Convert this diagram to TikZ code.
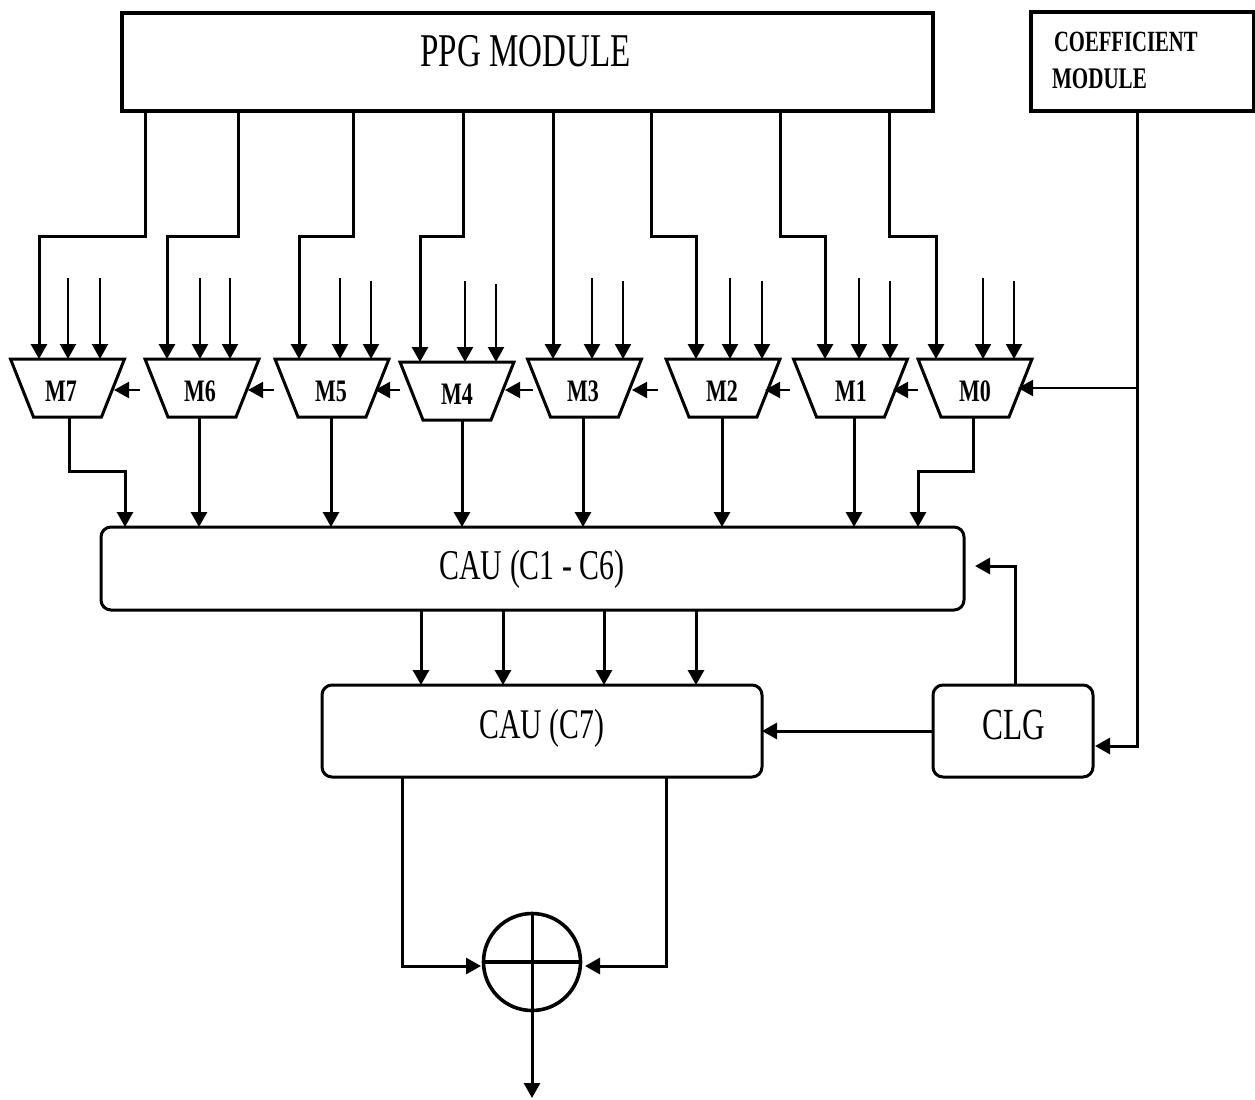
\documentclass[tikz,border=0pt]{standalone}
\usepackage{fontspec}
\usepackage{graphicx}
\setmainfont{Liberation Serif}
\usetikzlibrary{arrows.meta,calc}
\newcommand{\pxu}{0.75pt}
\newcommand{\tall}[1]{\scalebox{1}[1.42]{#1}}
\tikzset{
  x=0.75pt,y=-0.75pt,
  box/.style={draw=black,line width=3.4*\pxu,fill=white,inner sep=0pt,outer sep=0pt},
  roundbox/.style={box,rounded corners=10*\pxu,line width=3*\pxu},
  muxbody/.style={draw=black,line width=3*\pxu,fill=white,line join=miter},
  muxtext/.style={rectangle,inner sep=0pt,outer sep=0pt,minimum width=114*\pxu,minimum height=58*\pxu,
    font=\bfseries\fontsize{16.5}{18}\selectfont},
  wire/.style={line width=3*\pxu,draw=black},
  arr/.style={wire,-{Triangle[length=15*\pxu,width=16*\pxu]}},
  thin arr/.style={arr,line width=2.2*\pxu},
  plain label/.style={inner sep=0pt,outer sep=0pt},
}
\begin{document}
\begin{tikzpicture}
\useasboundingbox (0,0) rectangle (1255,1099);
% boxes
\node[box,minimum width=811*\pxu,minimum height=98*\pxu] (ppg) at (527.5,62) {};
\node[plain label,font=\fontsize{24.8}{28}\selectfont] (ppgt) at (525.5,51) {\tall{PPG MODULE}};
\node[box,minimum width=223*\pxu,minimum height=99*\pxu] (coef) at (1142.5,61.5) {};
\node[plain label,font=\bfseries\fontsize{15.5}{18}\selectfont,anchor=west] (coefa) at (1054,42) {\tall{COEFFICIENT}};
\node[plain label,font=\bfseries\fontsize{15.8}{18}\selectfont,anchor=west] (coefb) at (1052,79) {\tall{MODULE}};
\node[roundbox,minimum width=863*\pxu,minimum height=83*\pxu] (cauA) at (532.5,568.5) {};
\node[plain label,font=\fontsize{22.4}{26}\selectfont] (cauAt) at (532,569) {\tall{CAU (C1 - C6)}};
\node[roundbox,minimum width=440*\pxu,minimum height=92*\pxu] (cauB) at (542,731) {};
\node[plain label,font=\fontsize{22.3}{26}\selectfont] (cauBt) at (542,728) {\tall{CAU (C7)}};
\node[roundbox,minimum width=160*\pxu,minimum height=92*\pxu] (clg) at (1013,731) {};
\node[plain label,font=\fontsize{23.5}{26}\selectfont] (clgt) at (1014,725) {\tall{CLG}};
\node[draw=black,line width=3.6*\pxu,circle,minimum size=97*\pxu,inner sep=0pt,outer sep=0pt,fill=white] (sum) at (532,962) {};
\draw[wire,line width=3*\pxu] (sum.north) -- (sum.south);
\draw[wire,line width=3.4*\pxu] (sum.west) -- (sum.east);
% muxes
\foreach \m/\x/\y/\tx in {M7/67.5/388/61,M6/202/388/200,M5/332/388/331,M4/457/391/457,M3/584.5/388/583,M2/723/388/722,M1/850.5/388/851,M0/975/388/975}{
  \node[muxtext] (\m) at (\x,\y) {};
  \draw[muxbody] (\m.north west) -- (\m.north east) -- ($(\m.south east)+(-23,0)$) -- ($(\m.south west)+(23,0)$) -- cycle;
  \node[plain label,font=\bfseries\fontsize{16.5}{18}\selectfont] (\m t) at (\tx,\y+3) {\tall{\m}};
}
% PPG to mux
\foreach \m/\a/\b in {M7/145/39,M6/238/167,M5/353/299,M4/463/420,M2/651/696,M1/780/825,M0/889/936}{
  \coordinate (s) at (\a,0);
  \coordinate (t) at (\b,0);
  \coordinate (k) at (0,236);
  \draw[arr] (ppg.south -| s) -- (s |- k) -- (t |- k) -- (t |- \m.north);
}
\coordinate (s3) at (553,0);
\draw[arr] (ppg.south -| s3) -- (s3 |- M3.north);
% free data inputs
\foreach \m/\a/\y in {M7/68/278,M7/100/278,M6/200/278,M6/230/278,M5/340/278,M5/371/281,M4/465/281,M4/496/284,M3/592/278,M3/623/281,M2/730/278,M2/762/281,M1/859/278,M1/890/281,M0/983/278,M0/1014/281}{
  \coordinate (f) at (\a,\y);
  \draw[thin arr] (f) -- (f |- \m.north);
}
% select chain
\foreach \a/\b in {140/114,274/248,400/375,533/505,658/632,790/765,918/893}{
  \coordinate (f) at (\a,390);
  \coordinate (t) at (\b,390);
  \draw[thin arr] (f) -- (t);
}
\coordinate (bus) at (1137,388);
\coordinate (m0s) at (1018,388);
\draw[thin arr] (bus) -- (m0s);
% mux to CAU
\foreach \m/\a in {M6/199,M5/331,M4/462,M3/583,M2/722,M1/854}{
  \coordinate (o) at (\a,0);
  \draw[arr] (o |- \m.south) -- (o |- cauA.north);
}
\coordinate (k) at (0,471);
\coordinate (o) at (69,0); \coordinate (t) at (125,0);
\draw[arr] (o |- M7.south) -- (o |- k) -- (t |- k) -- (t |- cauA.north);
\coordinate (o) at (973,0); \coordinate (t) at (918,0);
\draw[arr] (o |- M0.south) -- (o |- k) -- (t |- k) -- (t |- cauA.north);
% CAU to CAU
\foreach \a in {421,503,604,696}{
  \coordinate (o) at (\a,0);
  \draw[arr] (o |- cauA.south) -- (o |- cauB.north);
}
% CLG
\coordinate (up) at (1015,566);
\coordinate (cauAr) at (975,566);
\draw[arr] (up |- clg.north) -- (up) -- (cauAr);
\draw[arr] (clg.west) -- (cauB.east);
% coefficient line
\coordinate (c) at (1137,746);
\coordinate (clgr) at (1095,746);
\draw[arr] (c |- coef.south) -- (c) -- (clgr);
% to adder
\coordinate (l) at (402,966);
\coordinate (r) at (666,966);
\coordinate (lt) at (481,966);
\coordinate (rt) at (585,966);
\draw[arr] (l |- cauB.south) -- (l) -- (lt);
\draw[arr] (r |- cauB.south) -- (r) -- (rt);
\coordinate (out) at (532,1098);
\draw[arr] (sum.south) -- (out);
\end{tikzpicture}
\end{document}
